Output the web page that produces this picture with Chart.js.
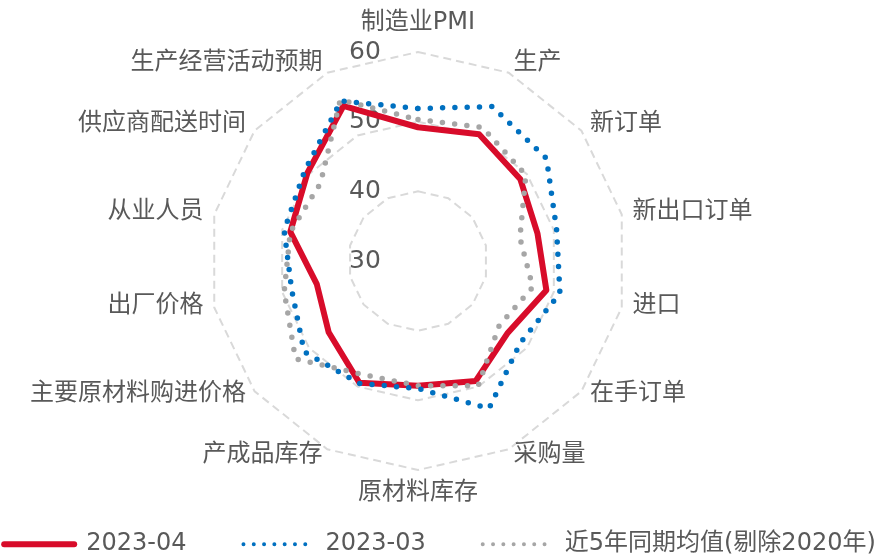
<!DOCTYPE html>
<html>
<head>
<meta charset="utf-8">
<script src="https://cdn.jsdelivr.net/npm/chart.js@4.4.1/dist/chart.umd.min.js"></script>
<style>
  html, body { margin: 0; padding: 0; background: #fff; overflow: hidden; }
  /* 画布比窗口宽，向左错开，让雷达图中心偏左、图例居中 */
  #wrap { position: relative; width: 877px; height: 556px; overflow: hidden; }
  #radar { position: absolute; left: -82px; top: 0; }
</style>
</head>
<body>
<div id="wrap"><canvas id="radar" width="1000" height="556"></canvas></div>
<script>
// 指标（顺时针，从顶部开始）
const categories = ['制造业PMI', '生产', '新订单', '新出口订单', '进口', '在手订单', '采购量',
    '原材料库存', '产成品库存', '主要原材料购进价格', '出厂价格', '从业人员', '供应商配送时间', '生产经营活动预期'];

// 各序列数值（%）
const apr2023 = [49.2, 50.2, 48.8, 47.6, 48.9, 46.5, 49.1, 47.9, 49.4, 46.4, 44.9, 48.8, 50.3, 54.7];
const mar2023 = [51.9, 54.6, 53.6, 50.4, 50.9, 48.8, 53.5, 48.3, 49.5, 50.9, 48.6, 49.7, 50.8, 55.5];
const avg5y   = [50.3, 51.3, 49.8, 45.0, 46.9, 44.9, 49.9, 47.9, 48.1, 52.5, 49.7, 48.8, 47.9, 55.7];

const seriesNames = ['2023-04', '2023-03', '近5年同期均值(剔除2020年)'];
const tickValues = [30, 40, 50, 60];

const textColor = '#595959';
const fontStack = "'DejaVu Sans', 'Noto Sans CJK SC', sans-serif";

// 刻度和指标名称：按坐标轴位置自己画
const axisText = {
    id: 'axisText',
    beforeDatasetsDraw(chart) {
        const r = chart.scales.r;
        const ctx = chart.ctx;
        ctx.save();
        ctx.fillStyle = textColor;

        // 刻度值放在中心左侧
        ctx.font = `25px ${fontStack}`;
        ctx.textAlign = 'center';
        ctx.textBaseline = 'middle';
        tickValues.forEach(v => {
            ctx.fillText(String(v), r.xCenter - 53, r.yCenter - r.getDistanceFromCenterForValue(v));
        });

        // 指标名称
        ctx.font = `24px ${fontStack}`;
        categories.forEach((name, i) => {
            const p = r.getPointPosition(i, r.drawingArea + 11);
            const dx = p.x - r.xCenter;
            if (Math.abs(dx) < 1) {
                ctx.textAlign = 'center';
                if (p.y < r.yCenter) {
                    ctx.textBaseline = 'bottom';
                    ctx.fillText(name, p.x, p.y - 6);
                } else {
                    ctx.textBaseline = 'top';
                    ctx.fillText(name, p.x, p.y);
                }
                return;
            }
            ctx.textAlign = dx > 0 ? 'left' : 'right';
            ctx.textBaseline = 'middle';
            const yShift = p.y > r.yCenter ? -4 : 0;
            ctx.fillText(name, p.x, p.y + yShift);
        });
        ctx.restore();
    }
};

const legendWidths = [6, 4, 4];
const legendDash = [[], [0, 10.3], [0, 10.3]];

new Chart(document.getElementById('radar'), {
    type: 'radar',
    data: {
        labels: categories,
        datasets: [
            {
                label: seriesNames[0],
                data: apr2023,
                borderColor: '#D80C2A',
                backgroundColor: '#D80C2A',
                borderWidth: 6,
                borderJoinStyle: 'round',
                borderCapStyle: 'round',
                pointRadius: 0,
                fill: false,
                order: 3
            },
            {
                label: seriesNames[1],
                data: mar2023,
                borderColor: '#0070C0',
                backgroundColor: '#0070C0',
                borderWidth: 5.5,
                borderDash: [0, 12.3],
                borderCapStyle: 'round',
                pointRadius: 0,
                fill: false,
                order: 1
            },
            {
                label: seriesNames[2],
                data: avg5y,
                borderColor: '#A6A6A6',
                backgroundColor: '#A6A6A6',
                borderWidth: 5.5,
                borderDash: [0, 12.3],
                borderCapStyle: 'round',
                pointRadius: 0,
                fill: false,
                order: 2
            }
        ]
    },
    options: {
        responsive: false,
        animation: false,
        devicePixelRatio: 1,
        layout: {
            padding: { left: 0, right: -44, top: 52, bottom: -10.2 }
        },
        scales: {
            r: {
                min: 30,
                max: 60,
                ticks: { stepSize: 10, display: false },
                grid: { color: '#D9D9D9', lineWidth: 2 },
                border: { dash: [8, 5] },
                angleLines: { display: false },
                pointLabels: { display: false }
            }
        },
        plugins: {
            tooltip: { enabled: false },
            legend: {
                position: 'bottom',
                title: { display: true, text: '', padding: { top: 4, bottom: 0 }, font: { size: 1 } },
                labels: {
                    usePointStyle: true,
                    pointStyle: 'line',
                    pointStyleWidth: 70,
                    padding: 57,
                    color: textColor,
                    font: { family: fontStack, size: 24 },
                    sort: (a, b) => a.datasetIndex - b.datasetIndex,
                    generateLabels(chart) {
                        const items = Chart.defaults.plugins.legend.labels.generateLabels(chart);
                        items.forEach(item => {
                            const k = item.datasetIndex;
                            item.lineWidth = legendWidths[k];
                            item.lineDash = legendDash[k];
                            item.lineCap = 'round';
                        });
                        return items;
                    }
                }
            }
        }
    },
    plugins: [axisText]
});
</script>
</body>
</html>
